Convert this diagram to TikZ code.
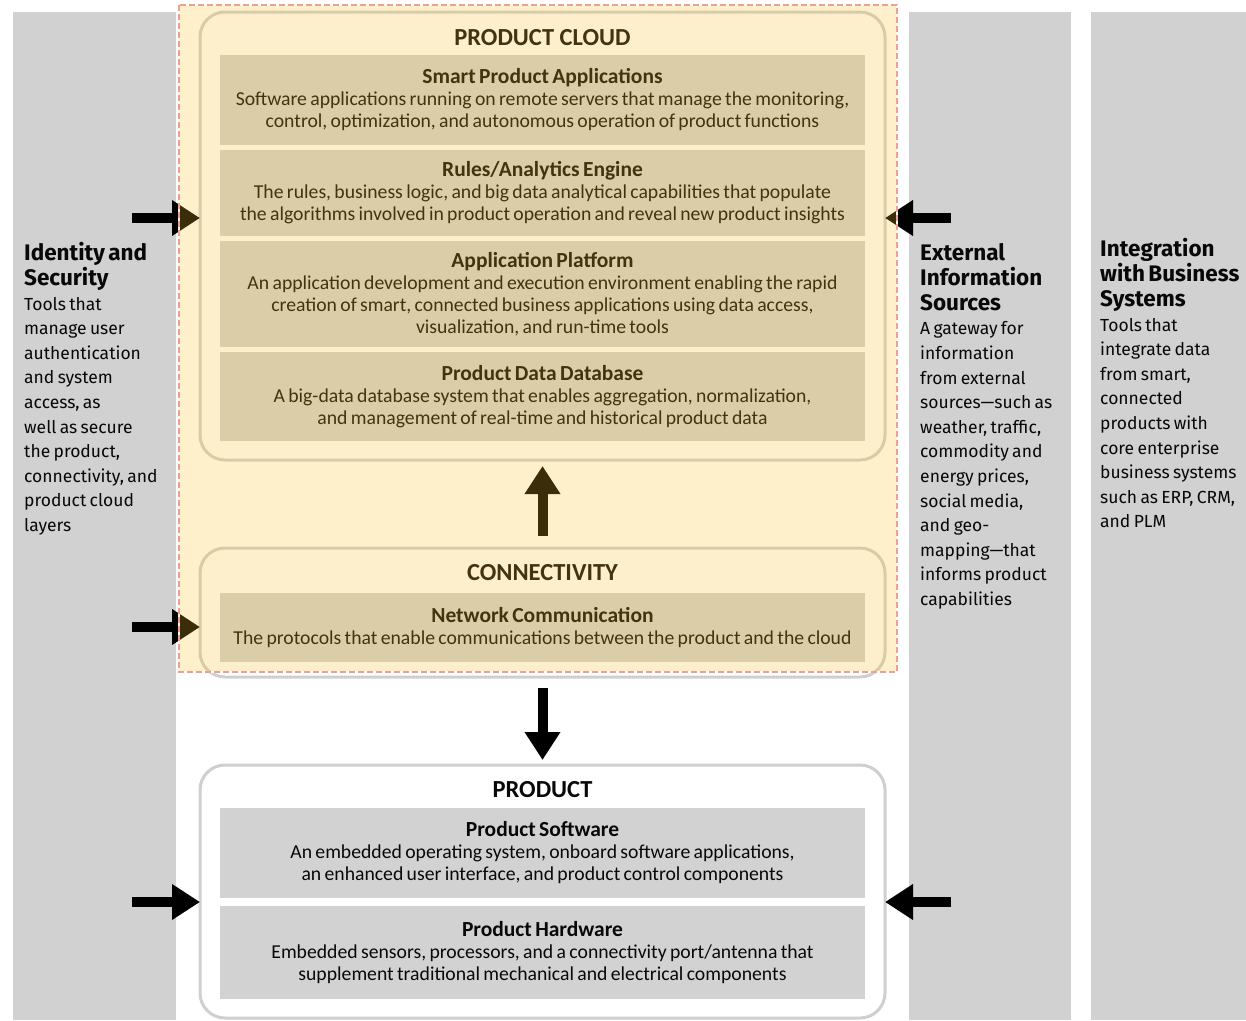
\documentclass[tikz,border=0pt]{standalone}
\usepackage{fontspec}
\setmainfont{Carlito}
\newfontfamily\sidefont{Fira Sans}
\usetikzlibrary{positioning,arrows.meta}
\definecolor{panel}{HTML}{D1D1D1}
\definecolor{boxgray}{HTML}{D2D2D2}
\definecolor{rim}{HTML}{CFCFCF}
\definecolor{amber}{HTML}{FEC02A}
\definecolor{salmon}{HTML}{F2A08A}
\definecolor{ink}{HTML}{080808}
\newcommand{\parthead}[1]{{\bfseries\fontsize{21.5}{22}\selectfont #1\par}}
\newcommand{\partbody}[1]{{\fontsize{19.7}{22}\selectfont #1\par}}
\newcommand{\sidehead}[1]{{\sidefont\bfseries\fontsize{22.5}{25}\selectfont #1\par}}
\newcommand{\sidebody}[1]{{\sidefont\fontsize{17.5}{24.6}\selectfont #1\par}}

\begin{document}
\begin{tikzpicture}[x=1pt, y=-1pt]
        \tikzset{
            layer/.style={draw=rim, fill=white, line width=3pt, rounded corners=25pt,
                minimum width=685pt, inner sep=0pt, outer sep=0pt},
            part/.style={fill=boxgray, text width=645pt, align=center,
                inner sep=0pt, outer sep=0pt, text=ink},
            title/.style={font=\bfseries\fontsize{24.5}{25}\selectfont, inner sep=0pt, text=ink},
            sidetext/.style={text width=160pt, align=left, inner sep=0pt,
                anchor=north west, text=ink},
            bigarrow/.style={line width=10pt, -{Triangle[length=28pt,width=34pt]}},
            cloudwash/.style={fill=amber, fill opacity=0.24},
        }
        \useasboundingbox (0,0) rectangle (1246,1020);

        \begin{scope}
            \fill[panel] (13,12) rectangle (176,1020);
            \fill[panel] (909,12) rectangle (1071,1020);
            \fill[panel] (1091,12) rectangle (1246,1020);
        \end{scope}

        \node[sidetext] (idsec) at (24,242)
        {\sidehead{Identity and\\Security}
         \sidebody{Tools that\\manage user\\authentication\\and system\\access, as\\well as secure\\the product,\\connectivity, and\\product cloud\\layers}};
        \node[sidetext] (extinfo) at (920,243)
        {\sidehead{External\\Information\\Sources}
         \sidebody{A gateway for\\information\\from external\\sources—such as\\weather, traffic,\\commodity and\\energy prices,\\social media,\\and geo-\\mapping—that\\informs product\\capabilities}};
        \node[sidetext] (integ) at (1100,238)
        {\sidehead{Integration\\with Business\\Systems}
         \sidebody{Tools that\\integrate data\\from smart,\\connected\\products with\\core enterprise\\business systems\\such as ERP, CRM,\\and PLM}};

        \node[layer, minimum height=448pt] (cloud) at (542.5,236) {};
        \node[title, below=17pt of cloud.north] (cloudtitle) {PRODUCT CLOUD};
        \node[part, minimum height=90pt, below=43pt of cloud.north] (smart)
        {\parthead{Smart Product Applications}
         \partbody{Software applications running on remote servers that manage the monitoring,\\
         control, optimization, and autonomous operation of product functions}};
        \node[part, minimum height=86pt, below=5pt of smart] (rules)
        {\parthead{Rules/Analytics Engine}
         \partbody{The rules, business logic, and big data analytical capabilities that populate\\
         the algorithms involved in product operation and reveal new product insights}};
        \node[part, minimum height=106pt, below=5pt of rules] (platform)
        {\parthead{Application Platform}
         \partbody{An application development and execution environment enabling the rapid\\
         creation of smart, connected business applications using data access,\\
         visualization, and run-time tools}};
        \node[part, minimum height=89pt, below=5pt of platform] (database)
        {\parthead{Product Data Database}
         \partbody{A big-data database system that enables aggregation, normalization,\\
         and management of real-time and historical product data}};

        \node[layer, minimum height=129pt] (conn) at (542.5,612.5) {};
        \node[title, below=16pt of conn.north] (conntitle) {CONNECTIVITY};
        \node[part, minimum height=69pt, below=45pt of conn.north] (network)
        {\parthead{Network Communication}
         \partbody{The protocols that enable communications between the product and the cloud}};

        \node[layer, minimum height=253pt] (prod) at (542.5,891.5) {};
        \node[title, below=16pt of prod.north] (prodtitle) {PRODUCT};
        \node[part, minimum height=90pt, below=43pt of prod.north] (software)
        {\parthead{Product Software}
         \partbody{An embedded operating system, onboard software applications,\\
         an enhanced user interface, and product control components}};
        \node[part, minimum height=93pt, below=8pt of software] (hardware)
        {\parthead{Product Hardware}
         \partbody{Embedded sensors, processors, and a connectivity port/antenna that\\
         supplement traditional mechanical and electrical components}};

        \coordinate (idA) at (132,218);
        \coordinate (idB) at (132,627);
        \coordinate (idC) at (132,902);
        \coordinate (exA) at (951,218);
        \coordinate (exB) at (951,902);

        \begin{scope}[bigarrow]
            \draw (idA) -- (cloud.west |- idA);
            \draw (idB) -- (conn.west |- idB);
            \draw (idC) -- (prod.west |- idC);
            \draw (exA) -- (cloud.east |- exA);
            \draw (exB) -- (prod.east |- exB);
            \draw[shorten <=12pt, shorten >=6pt] (conn) -- (cloud);
            \draw[shorten <=11pt, shorten >=5pt] (conn) -- (prod);
        \end{scope}

        \fill[cloudwash] (179,5) rectangle (897,672);
        \draw[white, line width=1.2pt] (179,5) rectangle (897,672);
        \draw[salmon, line width=1.2pt, dash pattern=on 6pt off 3pt] (179,5) rectangle (897,672);

\end{tikzpicture}
\end{document}
